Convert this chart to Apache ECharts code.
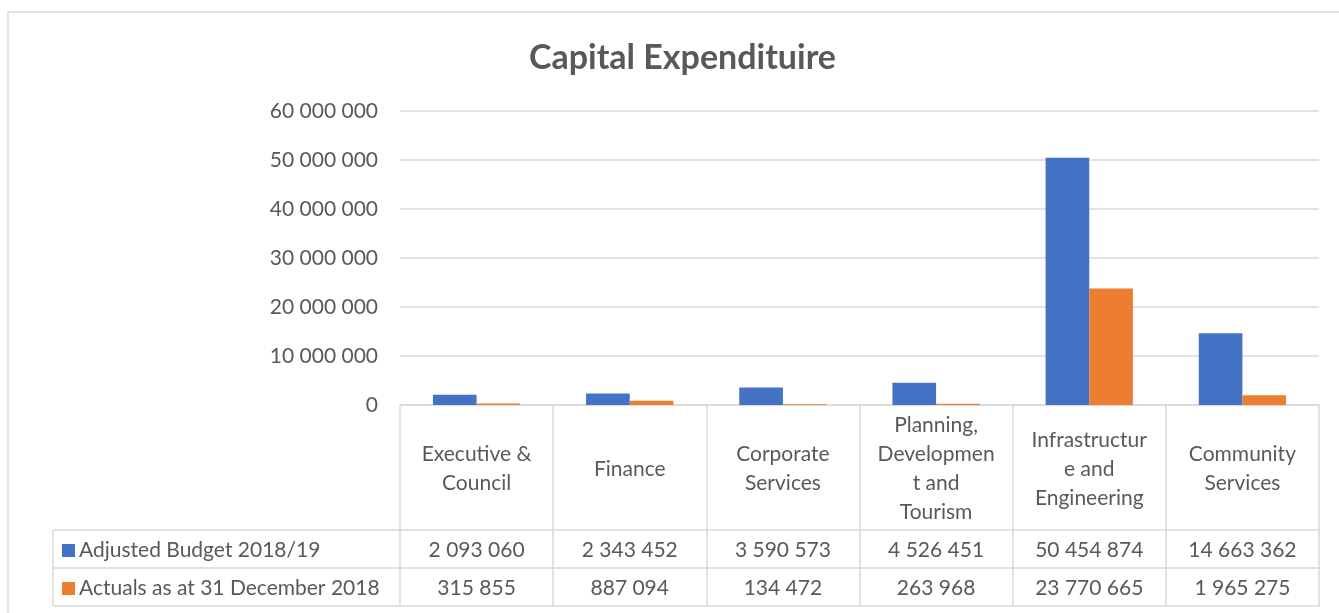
<!DOCTYPE html>
<html>
<head>
<meta charset="utf-8">
<script src="https://cdn.jsdelivr.net/npm/echarts@6/dist/echarts.min.js"></script>
<style>
  html, body { margin: 0; padding: 0; background: #fff; }
  #chart { width: 1339px; height: 613px; }
</style>
</head>
<body>
<div id="chart"></div>
<script>
const categories = [
  'Executive &\nCouncil',
  'Finance',
  'Corporate\nServices',
  'Planning,\nDevelopmen\nt and\nTourism',
  'Infrastructur\ne and\nEngineering',
  'Community\nServices'
];
const seriesNames = ['Adjusted Budget 2018/19', 'Actuals as at 31 December 2018'];
const budget = [2093060, 2343452, 3590573, 4526451, 50454874, 14663362];
const actuals = [315855, 887094, 134472, 263968, 23770665, 1965275];

const fmt = (n) => String(n).replace(/\B(?=(\d{3})+(?!\d))/g, ' ');

const FONT = 'Lato';
const TXT = '#595959';
const LINE = '#d9d9d9';

const chart = echarts.init(document.getElementById('chart'));

const rowAxis = (offset, values) => ({
  type: 'category',
  position: 'bottom',
  offset: offset,
  data: categories,
  axisLine: { show: true, lineStyle: { color: LINE, width: 1.5 } },
  axisTick: { show: false },
  splitLine: { show: false },
  axisLabel: {
    show: !!values,
    interval: 0,
    margin: 20,
    verticalAlign: 'middle',
    fontFamily: FONT,
    fontSize: 21,
    color: TXT,
    formatter: (v, i) => (values ? fmt(values[i]) : '')
  }
});

const option = {
  color: ['#4472C4', '#ED7D31'],
  animation: false,
  title: {
    text: 'Capital Expendituire',
    left: 524,
    top: 36,
    textStyle: { fontFamily: FONT, fontSize: 34, fontWeight: 'bold', color: TXT }
  },
  legend: {
    data: seriesNames,
    orient: 'vertical',
    left: 57,
    top: 535,
    itemGap: 17,
    itemWidth: 13,
    itemHeight: 13,
    icon: 'rect',
    selectedMode: false,
    textStyle: { fontFamily: FONT, fontSize: 21, color: TXT, lineHeight: 21, padding: [0, 0, 0, -1] }
  },
  grid: { left: 400, right: 20, top: 111, bottom: 208 },
  xAxis: [
    {
      type: 'category',
      data: categories,
      axisLine: { show: true, lineStyle: { color: LINE, width: 1.5 } },
      axisTick: { show: true, inside: false, length: 201, lineStyle: { color: LINE, width: 1.5 } },
      axisLabel: {
        interval: 0,
        margin: 64,
        verticalAlign: 'middle',
        align: 'center',
        lineHeight: 29,
        fontFamily: FONT,
        fontSize: 21,
        color: TXT
      }
    },
    rowAxis(125, budget),
    rowAxis(163, actuals),
    rowAxis(201, null)
  ],
  yAxis: {
    type: 'value',
    min: 0,
    max: 60000000,
    interval: 10000000,
    axisLine: { show: false },
    axisTick: { show: false },
    splitLine: { lineStyle: { color: LINE, width: 1.5 } },
    axisLabel: {
      margin: 22,
      fontFamily: FONT,
      fontSize: 21,
      color: TXT,
      formatter: (v) => fmt(v)
    }
  },
  series: [
    { name: seriesNames[0], type: 'bar', data: budget, barGap: '0%', barCategoryGap: '43%' },
    { name: seriesNames[1], type: 'bar', data: actuals, barGap: '0%', barCategoryGap: '43%' }
  ],
  graphic: [
    { type: 'rect', shape: { x: 8, y: 12, width: 1345, height: 615 }, style: { fill: 'none', stroke: LINE, lineWidth: 1.5 } },
    { type: 'line', shape: { x1: 53, y1: 530, x2: 400, y2: 530 }, style: { stroke: LINE, lineWidth: 1.5 } },
    { type: 'line', shape: { x1: 53, y1: 568, x2: 400, y2: 568 }, style: { stroke: LINE, lineWidth: 1.5 } },
    { type: 'line', shape: { x1: 53, y1: 606, x2: 400, y2: 606 }, style: { stroke: LINE, lineWidth: 1.5 } },
    { type: 'line', shape: { x1: 53, y1: 530, x2: 53, y2: 606 }, style: { stroke: LINE, lineWidth: 1.5 } }
  ]
};

chart.setOption(option);
</script>
</body>
</html>
